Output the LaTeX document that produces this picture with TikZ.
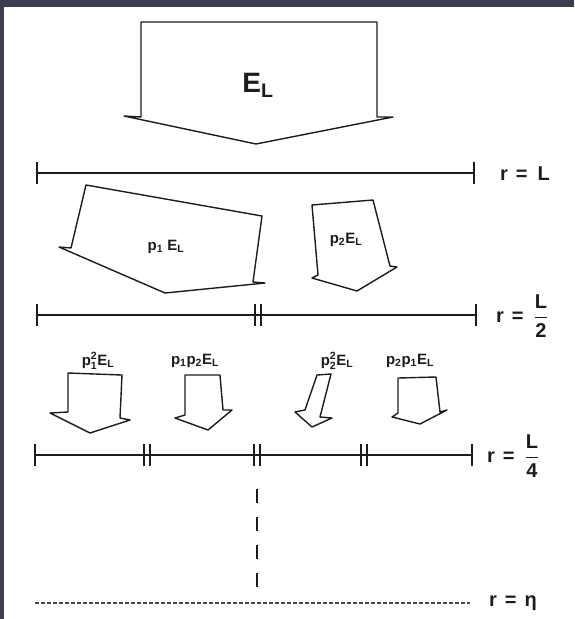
\documentclass[tikz,border=0pt]{standalone}
\usepackage{amsmath}
\usepackage{fontspec}
\setsansfont{Liberation Sans}
\usepackage{xcolor}
\usetikzlibrary{positioning,calc}
\definecolor{ink}{RGB}{28,28,28}
\definecolor{frame}{RGB}{58,62,78}
\tikzset{
  fat/.style={draw=ink,line width=1.4pt,line join=round,fill=white},
  rline/.style={draw=ink,line width=1.5pt},
  bar/.style={draw=ink,line width=2.4pt},
  dashv/.style={draw=ink,line width=1.6pt,dash pattern=on 14pt off 14pt},
  dotline/.style={draw=ink!80,line width=1.4pt,dash pattern=on 3.5pt off 2.5pt},
  lab/.style={font=\sffamily\bfseries\fontsize{15}{17}\selectfont,text=ink,inner sep=1pt},
  small/.style={lab,font=\sffamily\bfseries\fontsize{15}{17}\selectfont},
  rlab/.style={lab,anchor=west,font=\sffamily\bfseries\fontsize{20}{22}\selectfont},
}
\newcommand{\Esub}{E\textsubscript{L}}
\newcommand{\pp}[2]{$\text{p}_{\text{#1}}^{\text{#2}}$}

\begin{document}
\begin{tikzpicture}[x=1pt,y=-1pt]
\useasboundingbox (0,0) rectangle (574,619);
\fill[frame] (0,0) rectangle (574,7);
\fill[frame] (0,0) rectangle (4,619);

% r = L
\draw[fat] (141,22) -- (377,22) -- (377,117) -- (393,117) -- (256,144) -- (124,116) -- (141,117) -- cycle;
\node[lab, font=\sffamily\bfseries\fontsize{28}{30}\selectfont] (eL) at (258,85) {\Esub};
\coordinate (a0) at (37,173);
\coordinate (a1) at (474,173);
\draw[rline] (a0) -- (a1);
\foreach \x in {37,474} \draw[bar] (\x,162) -- (\x,184);
\node[rlab] (rL) at (499,174) {r\hspace{8pt}=\hspace{10pt}L};

% r = L/2
\draw[fat] (86,185) -- (262,216) -- (253,282) -- (265,283) -- (165,293) -- (59,247) -- (71,248) -- cycle;
\node[lab] (p1) at (166,247) {p\textsubscript{1} \Esub};
\draw[fat] (312,205) -- (373,200) -- (390,266) -- (397,267) -- (357,291) -- (312,278) -- (318,275) -- cycle;
\node[lab] (p2) at (346,240) {p\textsubscript{2}\Esub};
\coordinate (b0) at (37,315);
\coordinate (b1) at (476,315);
\draw[rline] (b0) -- (b1);
\foreach \x in {37,476} \draw[bar] (\x,304) -- (\x,326);
\foreach \x in {255,261} \draw[bar] (\x,304) -- (\x,326);
\node[rlab] (rhalf) at (495,316) {r\hspace{8pt}=\hspace{10pt}$\dfrac{\text{L}}{\text{2}}$};

% r = L/4
\draw[fat] (68,373) -- (122,375) -- (120,418) -- (130,420) -- (90,433) -- (50,413) -- (68,412) -- cycle;
\draw[fat] (185,375) -- (220,375) -- (223,410) -- (232,410) -- (208,430) -- (175,418) -- (185,415) -- cycle;
\draw[fat] (317,375) -- (331,374) -- (320,417) -- (332,418) -- (312,427) -- (295,412) -- (305,410) -- cycle;
\draw[fat] (398,378) -- (436,377) -- (440,412) -- (447,410) -- (420,424) -- (392,417) -- (398,413) -- cycle;
\node[small] (p11) at (98,361) {\pp{1}{2}E\textsubscript{L}};
\node[small] (p12) at (195,361) {p\textsubscript{1}p\textsubscript{2}E\textsubscript{L}};
\node[small] (p22) at (337,361) {\pp{2}{2}E\textsubscript{L}};
\node[small] (p21) at (410,361) {p\textsubscript{2}p\textsubscript{1}E\textsubscript{L}};
\coordinate (c0) at (35,455);
\coordinate (c1) at (472,455);
\draw[rline] (c0) -- (c1);
\foreach \x in {35,472} \draw[bar] (\x,444) -- (\x,466);
\foreach \x in {147,257,364} {
  \draw[bar] (\x-3,444) -- (\x-3,466);
  \draw[bar] (\x+3,444) -- (\x+3,466);
}
\node[rlab] (rquarter) at (486,456) {r\hspace{8pt}=\hspace{10pt}$\dfrac{\text{L}}{\text{4}}$};

% r = eta
\coordinate (v0) at (257,489);
\coordinate (v1) at (257,587);
\draw[dashv] (v0) -- (v1);
\coordinate (d0) at (35,603);
\coordinate (d1) at (470,603);
\draw[dotline] (d0) -- (d1);
\node[rlab] (reta) at (488,603) {r\hspace{8pt}=\hspace{8pt}η};
\end{tikzpicture}
\end{document}
